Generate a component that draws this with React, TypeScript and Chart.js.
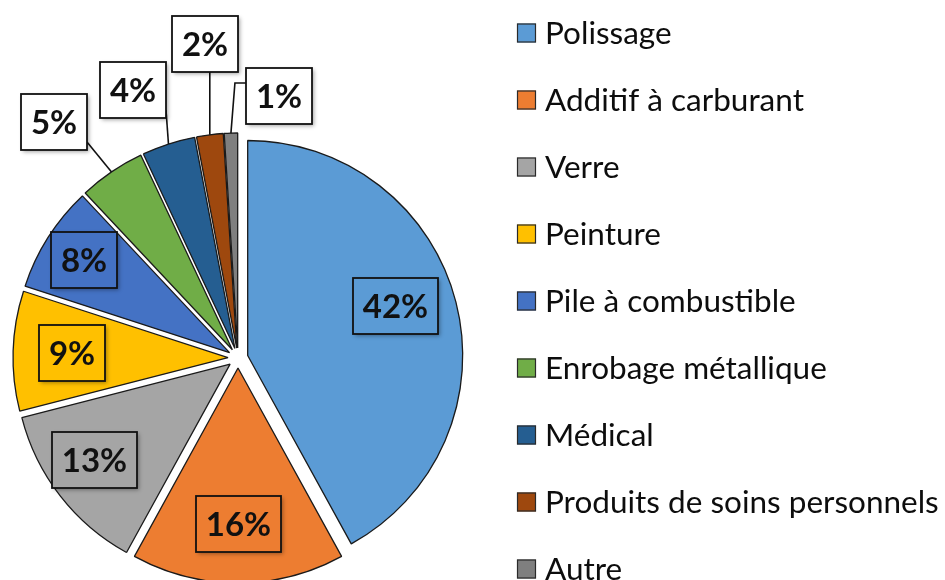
import React, { useEffect, useRef } from "react";
import { Chart, registerables } from "chart.js";

Chart.register(...registerables);

// ---- data ----
const categories = [
  "Polissage",
  "Additif à carburant",
  "Verre",
  "Peinture",
  "Pile à combustible",
  "Enrobage métallique",
  "Médical",
  "Produits de soins personnels",
  "Autre",
];
const shares = [42, 16, 13, 9, 8, 5, 4, 2, 1];
const sliceColors = [
  "#5B9BD5",
  "#ED7D31",
  "#A5A5A5",
  "#FFC000",
  "#4472C4",
  "#70AD47",
  "#255E91",
  "#9E480E",
  "#7F7F7F",
];

// ---- label layout (relative to each slice) ----
const labelInside = [true, true, true, true, true, false, false, false, false];
const labelDistance = [0.723, 0.726, 0.771, 0.728, 0.803, 1.346, 1.291, 1.42, 1.188];
const labelAngleShift = [-4.2, 0, 2.4, 0, 0, -3.9, -3.6, 1.3, 11.2];

const EXPLODE = 10;
const PIE_RADIUS = 215;
const LABEL_FONT = "bold 33px Lato";
const LEGEND_FONT = "31.5px Lato";

const explodePlugin = {
  id: "explodeSlices",
  beforeDatasetDraw(chart: any, args: any) {
    const ctx = chart.ctx;
    args.meta.data.forEach((el: any) => {
      const mid = (el.startAngle + el.endAngle) / 2;
      ctx.save();
      ctx.translate(Math.cos(mid) * EXPLODE, Math.sin(mid) * EXPLODE);
      el.draw(ctx);
      ctx.restore();
    });
    return false;
  },
};

const labelPlugin = {
  id: "boxLabels",
  afterDatasetsDraw(chart: any) {
    const ctx = chart.ctx;
    const meta = chart.getDatasetMeta(0);
    const values = chart.data.datasets[0].data as number[];
    meta.data.forEach((el: any, i: number) => {
      const mid = (el.startAngle + el.endAngle) / 2;
      const R = el.outerRadius;
      const scx = el.x + Math.cos(mid) * EXPLODE;
      const scy = el.y + Math.sin(mid) * EXPLODE;
      const a = mid + (labelAngleShift[i] * Math.PI) / 180;
      const bx = scx + Math.cos(a) * R * labelDistance[i];
      const by = scy + Math.sin(a) * R * labelDistance[i];
      const text = `${values[i]}%`;
      ctx.save();
      ctx.font = LABEL_FONT;
      const tw = ctx.measureText(text).width;
      const w = Math.round(tw + 20);
      const h = 56;
      const left = Math.round(bx - w / 2);
      const top = Math.round(by - h / 2);
      if (!labelInside[i]) {
        const ex = scx + Math.cos(mid) * R;
        const ey = scy + Math.sin(mid) * R;
        ctx.strokeStyle = "#111";
        ctx.lineWidth = 1.6;
        ctx.beginPath();
        ctx.moveTo(ex, ey);
        if (ex >= left && ex <= left + w) {
          ctx.lineTo(ex, top + h);
        } else if (ex < left) {
          const yy = top + 15;
          ctx.lineTo(ex + 4, yy);
          ctx.lineTo(left, yy);
        } else {
          ctx.lineTo(left + w, Math.min(Math.max(ey, top), top + h - 8));
        }
        ctx.stroke();
      }
      ctx.shadowColor = "rgba(0,0,0,0.35)";
      ctx.shadowBlur = 4;
      ctx.shadowOffsetX = 2;
      ctx.shadowOffsetY = 2;
      ctx.fillStyle = labelInside[i] ? sliceColors[i] : "#FFFFFF";
      ctx.fillRect(left, top, w, h);
      ctx.shadowColor = "transparent";
      ctx.strokeStyle = "#111";
      ctx.lineWidth = 1.8;
      ctx.strokeRect(left, top, w, h);
      ctx.fillStyle = "#111";
      ctx.textAlign = "center";
      ctx.textBaseline = "middle";
      ctx.fillText(text, left + w / 2, top + h / 2 + 1);
      ctx.restore();
    });
  },
};

const legendPlugin = {
  id: "sideLegend",
  afterDraw(chart: any) {
    const ctx = chart.ctx;
    const labels = chart.data.labels as string[];
    const colors = chart.data.datasets[0].backgroundColor as string[];
    ctx.save();
    ctx.font = LEGEND_FONT;
    ctx.textBaseline = "middle";
    ctx.textAlign = "left";
    labels.forEach((lab, i) => {
      const cy = 33 + i * 67;
      ctx.fillStyle = colors[i];
      ctx.fillRect(517, cy - 9.5, 19, 19);
      ctx.strokeStyle = "#2a2a2a";
      ctx.lineWidth = 1.2;
      ctx.strokeRect(517.5, cy - 9, 18, 18);
      ctx.fillStyle = "#0d0d0d";
      ctx.fillText(lab, 545, cy + 1);
    });
    ctx.restore();
  },
};

export default function App() {
  const ref = useRef<HTMLCanvasElement>(null);
  useEffect(() => {
    document.body.style.margin = "0";
    const chart = new Chart(ref.current as HTMLCanvasElement, {
      type: "pie",
      data: {
        labels: categories,
        datasets: [
          {
            data: shares,
            backgroundColor: sliceColors,
            borderColor: "#1a1a1a",
            borderWidth: 1.3,
          },
        ],
      },
      options: {
        responsive: false,
        animation: false,
        radius: PIE_RADIUS,
        layout: { padding: { left: 0, right: 469, top: 136, bottom: 0 } },
        plugins: {
          legend: { display: false },
          tooltip: { enabled: false },
        },
        events: [],
      } as any,
      plugins: [explodePlugin, labelPlugin, legendPlugin],
    });
    return () => chart.destroy();
  }, []);
  return (
    <div style={{ position: "fixed", left: 0, top: 0, width: 945, height: 580, background: "#fff" }}>
      <canvas ref={ref} width={945} height={580} />
    </div>
  );
}
